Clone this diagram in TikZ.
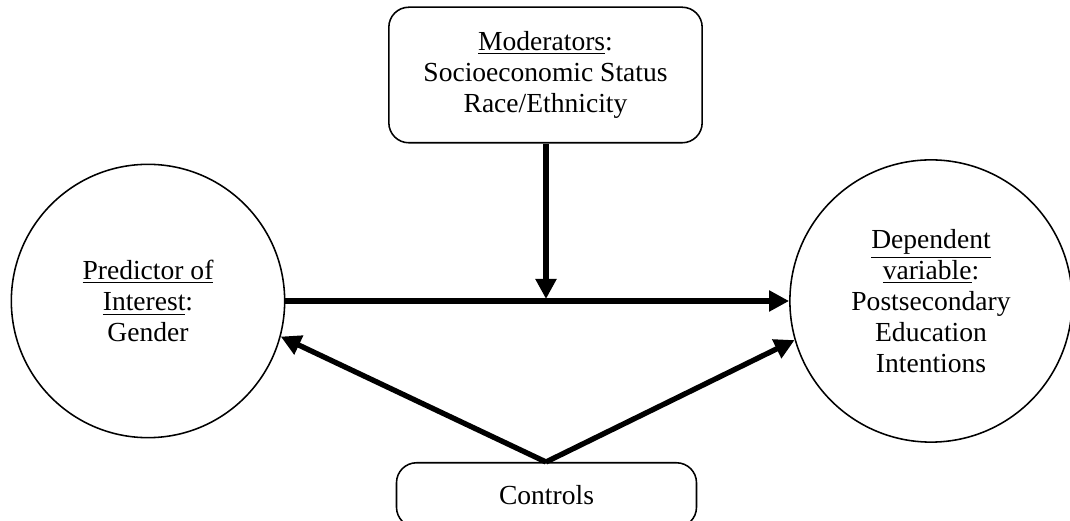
\documentclass[tikz,border=0pt]{standalone}
\usepackage{fontspec}
\setmainfont{Liberation Serif}
\usetikzlibrary{arrows,arrows.meta,positioning}

\begin{document}
\begin{tikzpicture}[x=0.45pt,y=-0.45pt,
  every node/.style={font=\fontsize{12.4}{14}\selectfont, align=center},
  varcircle/.style={draw, line width=0.7pt, circle, inner sep=0pt},
  varbox/.style={draw, line width=0.7pt, rounded corners=9pt, inner sep=0pt},
  link/.style={line width=2.4pt, -{Triangle[length=9pt,width=9pt]}}]
\useasboundingbox (0,0) rectangle (1070,521);
\node[varcircle, minimum size=123pt] (pred) at (148,301) {\underline{Predictor of}\\\underline{Interest}:\\Gender};
\node[varcircle, minimum size=127pt] (dep) at (931,301) {\underline{Dependent}\\\underline{variable}:\\Postsecondary\\Education\\Intentions};
\node[varbox, minimum width=141pt, minimum height=61pt] (mod) at (545.5,75) {\underline{Moderators}:\\Socioeconomic Status\\Race/Ethnicity};
\node[varbox, minimum width=135pt, minimum height=29pt] (ctrl) at (546.5,495) {Controls};
\coordinate (mid) at (546,299);

\draw[link] (pred.east) -- (dep.west);
\draw[link] (mod.south -| mid) -- (mid);
\draw[link] (ctrl.north -| mid) -- (pred.-15);
\draw[link] (ctrl.north -| mid) -- (dep.196);
\end{tikzpicture}
\end{document}
